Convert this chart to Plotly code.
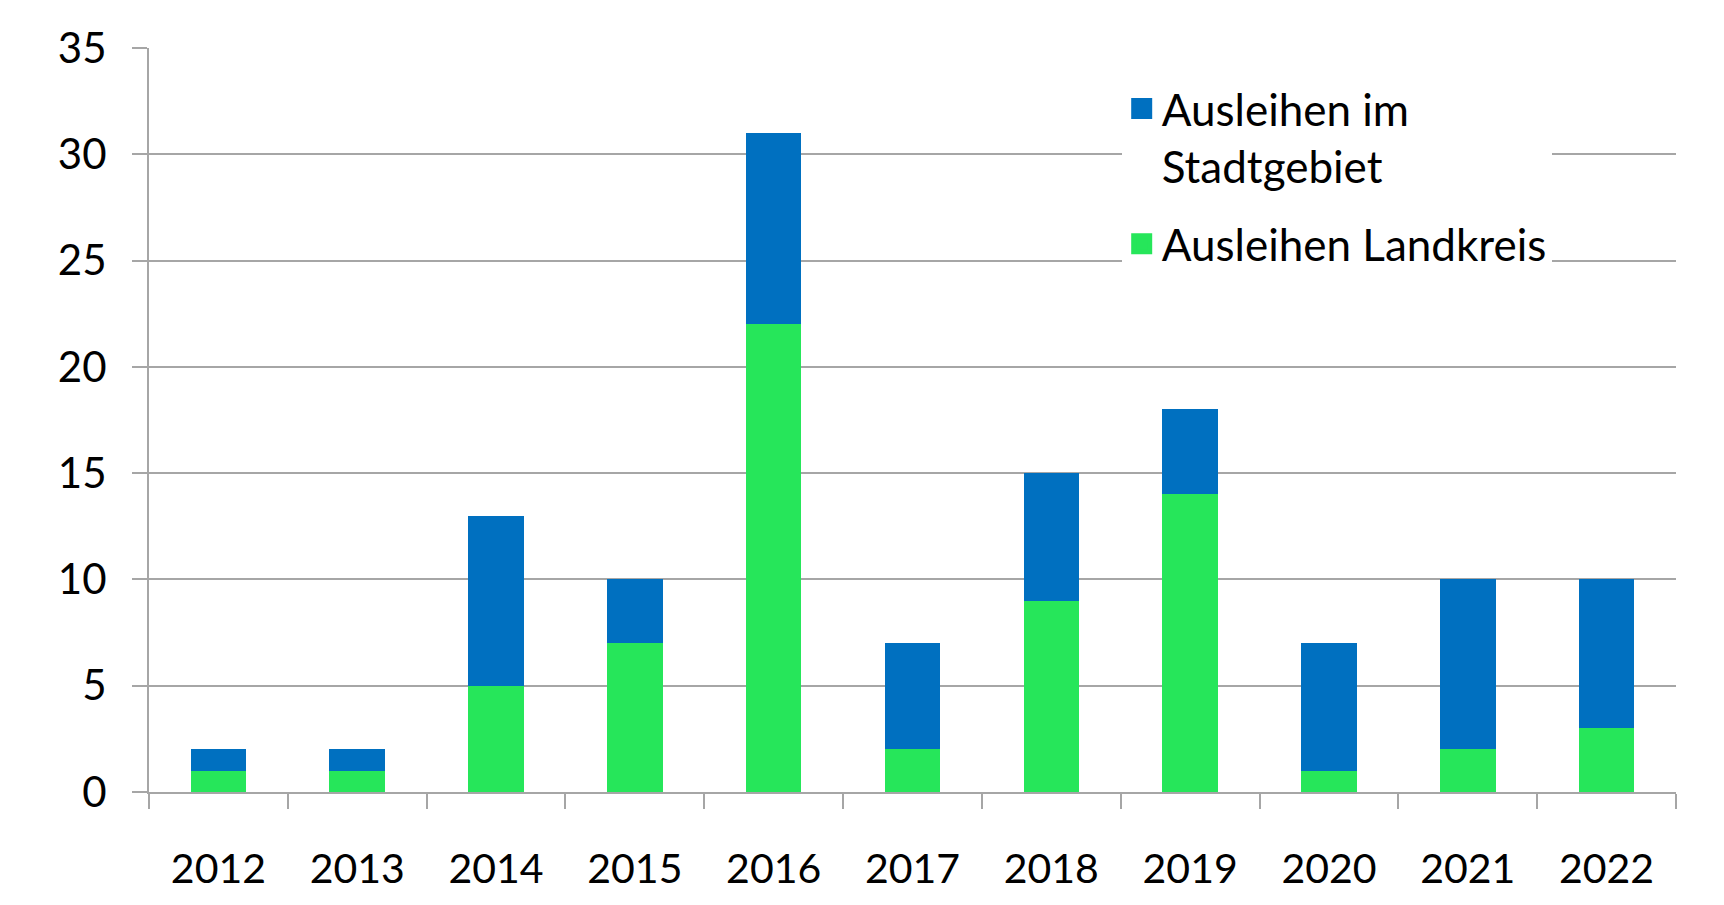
import plotly.graph_objects as go

years = ["2012", "2013", "2014", "2015", "2016", "2017", "2018", "2019", "2020", "2021", "2022"]
landkreis = [1, 1, 5, 7, 22, 2, 9, 14, 1, 2, 3]
stadtgebiet = [1, 1, 8, 3, 9, 5, 6, 4, 6, 8, 7]

name_stadt = "Ausleihen im<br>Stadtgebiet"
name_land = "Ausleihen Landkreis"
col_stadt = "#0070C0"
col_land = "#26E65A"
grid_col = "#A6A6A6"
FONT = "Lato"

fig = go.Figure()
fig.add_trace(go.Bar(x=years, y=landkreis, name=name_land, marker=dict(color=col_land, line=dict(width=0)),
                     showlegend=False))
fig.add_trace(go.Bar(x=years, y=stadtgebiet, name=name_stadt, marker=dict(color=col_stadt, line=dict(width=0)),
                     showlegend=False))
# legend entries (larger square swatches)
for i, (nm, col) in enumerate([(name_stadt, col_stadt), (name_land, col_land)]):
    fig.add_trace(go.Scatter(x=[None], y=[None], mode="markers", name=nm, legendgroup=f"g{i}",
                             marker=dict(symbol="square", size=16, color=col, line=dict(color=col, width=5))))

fig.update_layout(
    barmode="stack",
    bargap=0.6,
    width=1724, height=905,
    margin=dict(l=141, r=56, t=40, b=121, pad=0),
    paper_bgcolor="white", plot_bgcolor="white",
    font=dict(family=FONT, size=41, color="black"),
    legend=dict(x=0.637, y=0.966, xanchor="left", yanchor="top", bgcolor="white",
                font=dict(family=FONT, size=44, color="black"), traceorder="grouped",
                tracegroupgap=18, valign="top", itemsizing="trace"),
    xaxis=dict(type="category", showgrid=False, showline=True, linecolor=grid_col, linewidth=2,
               ticks="outside", ticklen=15, tickwidth=2, tickcolor=grid_col, tickson="boundaries",
               ticklabelstandoff=40, tickfont=dict(family=FONT, size=41, color="black")),
    yaxis=dict(range=[0, 35], dtick=5, tick0=0, showgrid=True, gridcolor=grid_col, gridwidth=2,
               showline=True, linecolor=grid_col, linewidth=2, zeroline=False,
               ticks="outside", ticklen=15, tickwidth=2, tickcolor=grid_col,
               ticklabelstandoff=17, tickfont=dict(family=FONT, size=42, color="black")),
)

fig.write_html("out.html")
